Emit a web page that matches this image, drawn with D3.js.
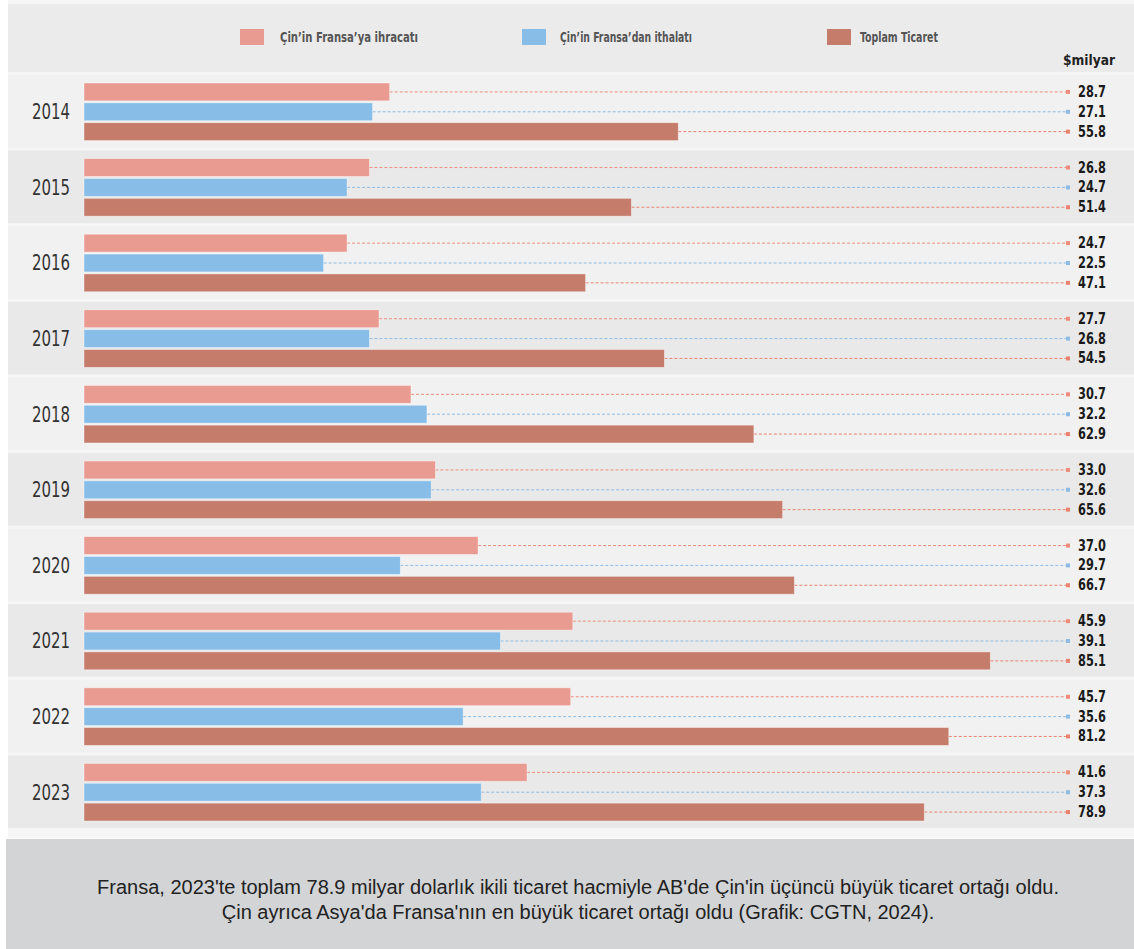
<!DOCTYPE html>
<html>
<head>
<meta charset="utf-8">
<script src="https://cdn.jsdelivr.net/npm/d3@7"></script>
<style>
  body { margin: 0; background: #ffffff; }
  svg { display: block; }
</style>
</head>
<body>
<svg id="chart" width="1134" height="949"></svg>
<script>
var years = ['2014', '2015', '2016', '2017', '2018', '2019', '2020', '2021', '2022', '2023'];
var ihracat = [28.7, 26.8, 24.7, 27.7, 30.7, 33.0, 37.0, 45.9, 45.7, 41.6];
var ithalat = [27.1, 24.7, 22.5, 26.8, 32.2, 32.6, 29.7, 39.1, 35.6, 37.3];
var toplam = [55.8, 51.4, 47.1, 54.5, 62.9, 65.6, 66.7, 85.1, 81.2, 78.9];
var seriesNames = ["Çin’in Fransa’ya ihracatı", "Çin’in Fransa’dan ithalatı", 'Toplam Ticaret'];
var captionLines = [
  "Fransa, 2023'te toplam 78.9 milyar dolarlık ikili ticaret hacmiyle AB'de Çin'in üçüncü büyük ticaret ortağı oldu.",
  "Çin ayrıca Asya'da Fransa'nın en büyük ticaret ortağı oldu (Grafik: CGTN, 2024)."
];

var barColors = ['#e99b91', '#87bde6', '#c57c6b'];
var dashColors = ['#ee8c7b', '#8dbbe3', '#e9836f'];
var narrow = "'Liberation Sans Narrow', 'DejaVu Sans Condensed', sans-serif";

var series = [ihracat, ithalat, toplam];
var rows = years.map(function(y, i){
  return { year: y, values: series.map(function(s){ return s[i]; }) };
});

var svg = d3.select('#chart');

// background panels
svg.append('rect').attr('x', 8).attr('y', 0).attr('width', 1126).attr('height', 838).attr('fill', '#f6f6f6');
svg.append('rect').attr('x', 8).attr('y', 4).attr('width', 1126).attr('height', 68).attr('fill', '#ebebeb');
svg.append('rect').attr('x', 6).attr('y', 839).attr('width', 1128).attr('height', 110).attr('fill', '#d3d4d6');

var x = d3.scaleLinear().domain([0, 100]).range([84, 1149]);
var y = d3.scaleBand().domain(years).range([75, 828]).paddingInner(0.04);
var inner = d3.scaleBand().domain([0, 1, 2]).range([8, y.bandwidth() - 7]).paddingInner(0.1);

var row = svg.selectAll('g.row')
  .data(rows)
  .enter()
  .append('g')
  .attr('class', 'row')
  .attr('transform', function(d){ return 'translate(0,' + y(d.year) + ')'; });

row.append('rect')
  .attr('x', 8)
  .attr('width', 1126)
  .attr('height', y.bandwidth())
  .attr('fill', function(d, i){ return i % 2 == 0 ? '#f1f1f1' : '#e9e9e9'; });

row.append('text')
  .attr('x', 32)
  .attr('y', y.bandwidth() / 2 + 8)
  .attr('textLength', 38)
  .attr('lengthAdjust', 'spacingAndGlyphs')
  .style('font-family', narrow)
  .style('font-size', '22px')
  .style('fill', '#333')
  .text(function(d){ return d.year; });

var item = row.selectAll('g.item')
  .data(function(d){ return d.values; })
  .enter()
  .append('g')
  .attr('class', 'item')
  .attr('transform', function(d, i){ return 'translate(0,' + inner(i) + ')'; });

item.append('line')
  .attr('x1', function(d){ return x(d); })
  .attr('x2', 1068)
  .attr('y1', inner.bandwidth() / 2)
  .attr('y2', inner.bandwidth() / 2)
  .attr('stroke', function(d, i){ return dashColors[i]; })
  .attr('stroke-width', 1)
  .attr('stroke-dasharray', '3,2');

item.append('rect')
  .attr('x', 1066)
  .attr('y', inner.bandwidth() / 2 - 2)
  .attr('width', 4)
  .attr('height', 4)
  .attr('fill', function(d, i){ return dashColors[i]; });

item.append('rect')
  .attr('x', x(0))
  .attr('width', function(d){ return x(d) - x(0); })
  .attr('height', inner.bandwidth())
  .attr('fill', function(d, i){ return barColors[i]; })
  .attr('stroke', 'rgba(255,255,255,0.5)')
  .attr('stroke-width', 0.8);

item.append('text')
  .attr('x', 1078)
  .attr('y', inner.bandwidth() / 2 + 5)
  .attr('textLength', 28)
  .attr('lengthAdjust', 'spacingAndGlyphs')
  .style('font-family', narrow)
  .style('font-weight', 'bold')
  .style('font-size', '15px')
  .style('fill', '#1a1a1a')
  .text(function(d){ return d.toFixed(1); });

// legend
var legendX = [240, 522, 827];
var legendTextX = [280, 560, 860];
var legendTextW = [138, 132, 78];
var legend = svg.selectAll('g.legend')
  .data(seriesNames)
  .enter()
  .append('g')
  .attr('class', 'legend');

legend.append('rect')
  .attr('x', function(d, i){ return legendX[i]; })
  .attr('y', 29)
  .attr('width', 24)
  .attr('height', 16)
  .attr('fill', function(d, i){ return barColors[i]; });

legend.append('text')
  .attr('x', function(d, i){ return legendTextX[i]; })
  .attr('y', 42)
  .attr('textLength', function(d, i){ return legendTextW[i]; })
  .attr('lengthAdjust', 'spacingAndGlyphs')
  .style('font-family', narrow)
  .style('font-weight', 'bold')
  .style('font-size', '14px')
  .style('fill', '#555')
  .text(function(d){ return d; });

svg.append('text')
  .attr('x', 1063)
  .attr('y', 65)
  .attr('textLength', 52)
  .attr('lengthAdjust', 'spacingAndGlyphs')
  .style('font-family', narrow)
  .style('font-weight', 'bold')
  .style('font-size', '14px')
  .style('fill', '#222')
  .text('$milyar');

svg.selectAll('text.caption')
  .data(captionLines)
  .enter()
  .append('text')
  .attr('class', 'caption')
  .attr('x', 578)
  .attr('y', function(d, i){ return 894 + i * 25; })
  .attr('text-anchor', 'middle')
  .style('font-family', "'Liberation Sans', Arial, sans-serif")
  .style('font-size', '20px')
  .style('fill', '#222')
  .text(function(d){ return d; });
</script>
</body>
</html>
